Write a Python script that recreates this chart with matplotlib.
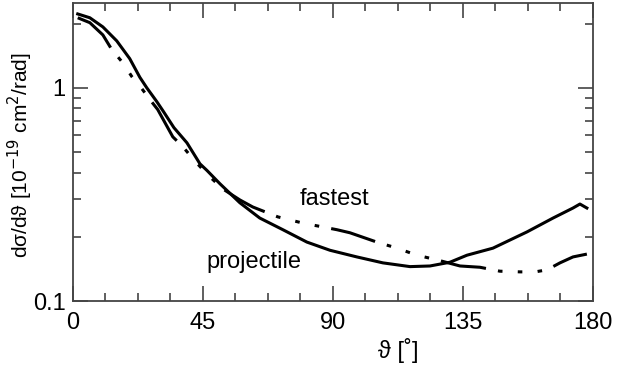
import numpy as np
import matplotlib.pyplot as plt
from matplotlib.ticker import MultipleLocator, LogLocator, NullFormatter, FixedLocator, FixedFormatter

plt.rcParams['font.family'] = ['Liberation Sans', 'DejaVu Sans']

# angle (deg) and cross section for the two curves
proj_theta = [1.7, 5.9, 10.4, 15.2, 19.7, 23.2, 25.6, 29.1, 31.2, 35, 39.5, 44, 46.4, 50.9,
              57.8, 64.7, 72.7, 81, 89, 98.3, 107.3, 116.7, 123.6, 130.5, 136.4, 145.4,
              157.2, 166.2, 173.1, 175.5, 177.9]
proj_sigma = [2.22, 2.13, 1.93, 1.66, 1.37, 1.12, 1.0, 0.86, 0.78, 0.65, 0.552, 0.440, 0.410,
              0.355, 0.289, 0.245, 0.216, 0.189, 0.173, 0.161, 0.151, 0.145, 0.146, 0.152,
              0.164, 0.177, 0.211, 0.245, 0.273, 0.285, 0.273]

fast_theta = [1.7, 5.9, 10.4, 13.5, 17.3, 20.4, 23.9, 26.7, 29.4, 34.6, 38.1, 42.2, 47.1,
              52, 57.8, 62.3, 71, 79.6, 91.4, 95.9, 105.2, 112.2, 119.1, 126, 134, 140.9,
              147.8, 154.8, 160, 164.1, 168.6, 173.1, 177.9]
fast_sigma = [2.13, 2.02, 1.77, 1.51, 1.31, 1.13, 0.99, 0.88, 0.79, 0.589, 0.529, 0.454, 0.386,
              0.335, 0.298, 0.276, 0.248, 0.232, 0.216, 0.209, 0.189, 0.177, 0.164, 0.156,
              0.146, 0.144, 0.138, 0.137, 0.137, 0.140, 0.151, 0.161, 0.166]

fig = plt.figure(figsize=(6.17, 3.68), dpi=100)
ax = fig.add_axes([0.118, 0.182, 0.843, 0.810])

ax.plot(proj_theta, proj_sigma, color='black', lw=2.2)
ax.plot(fast_theta, fast_sigma, color='black', lw=2.2,
        dashes=(15, 4, 1.5, 5, 1.5, 5, 1.5, 4))

ax.set_yscale('log')
ax.set_xlim(0, 180)
ax.set_ylim(0.1, 2.5)

ax.xaxis.set_major_locator(MultipleLocator(45))
ax.xaxis.set_minor_locator(MultipleLocator(11.25))
ax.yaxis.set_major_locator(FixedLocator([0.1, 1]))
ax.yaxis.set_major_formatter(FixedFormatter(['0.1', '1']))
ax.yaxis.set_minor_locator(LogLocator(base=10, subs=np.arange(2, 10)))
ax.yaxis.set_minor_formatter(NullFormatter())

ax.tick_params(which='both', direction='in', top=True, right=True, labelsize=17,
               color='#444444', width=1.2)
ax.tick_params(which='major', length=11)
ax.tick_params(axis='x', which='major', pad=8)
ax.tick_params(axis='y', which='major', pad=5)
ax.tick_params(which='minor', length=6)
for s in ax.spines.values():
    s.set_color('#444444')
    s.set_linewidth(1.3)

ax.text(78.6, 0.30, 'fastest', fontsize=17, va='center', ha='left')
ax.text(46.4, 0.153, 'projectile', fontsize=17, va='center', ha='left')

ax.set_ylabel('dσ/dϑ [10$^{-19}$ cm$^2$/rad]', fontsize=15)
ax.set_xlabel('ϑ [˚]', fontsize=17)
ax.xaxis.set_label_coords(0.625, -0.125)
ax.yaxis.set_label_coords(-0.072, 0.49)

fig.savefig('out.png', dpi=100)
